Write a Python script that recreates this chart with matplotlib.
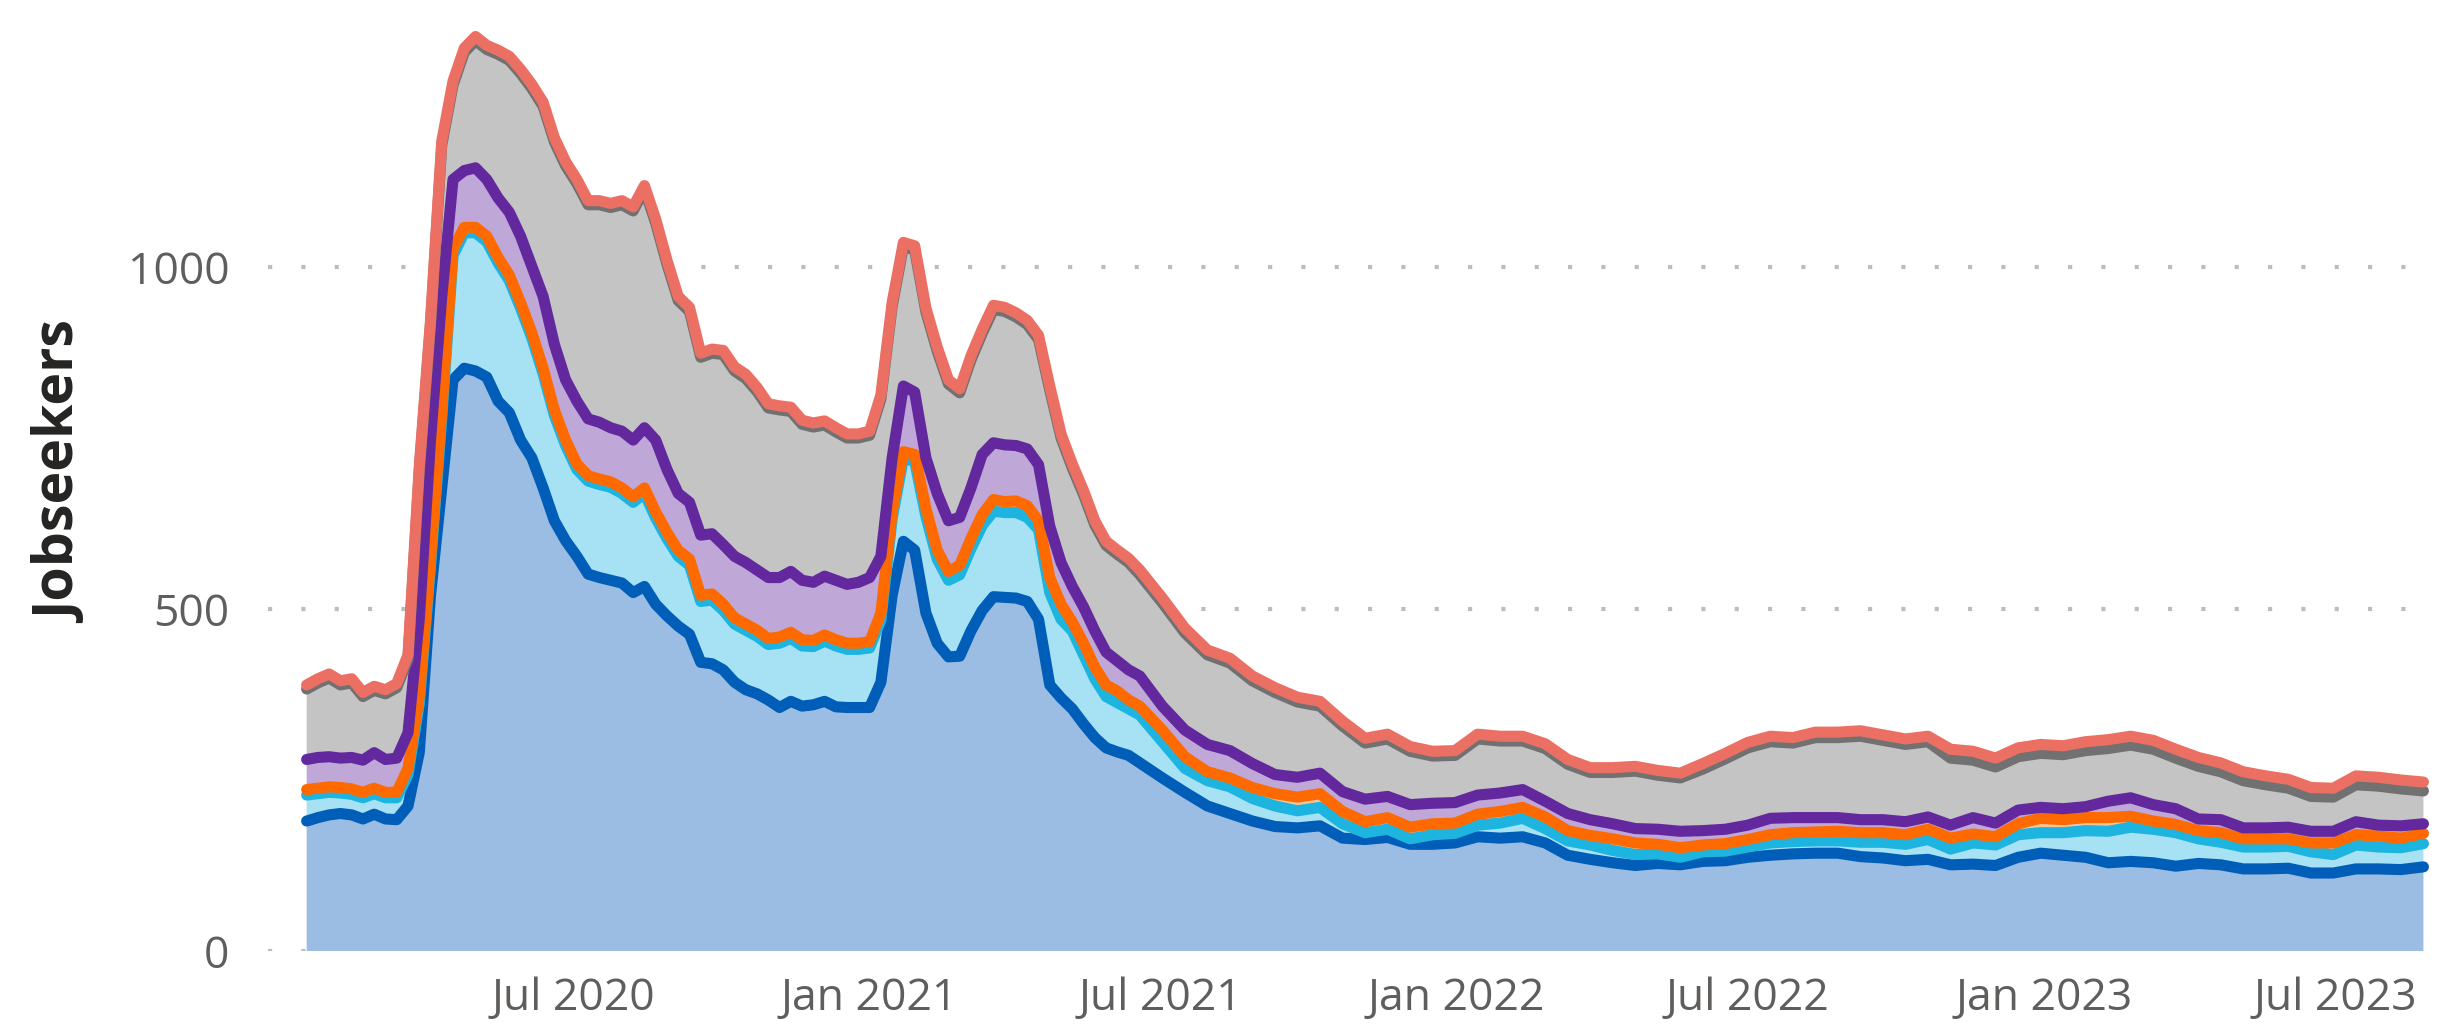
import numpy as np
import pandas as pd
import matplotlib
matplotlib.use("Agg")
import matplotlib.pyplot as plt
import matplotlib.dates as mdates

# weekly readings up to mid 2021, fortnightly after that
dates = list(pd.date_range("2020-01-17", "2021-06-11", freq="7D")) + \
        list(pd.date_range("2021-06-18", "2023-08-25", freq="14D"))

blue = [190, 195, 199, 201, 199, 193, 200, 193, 192, 212,
        290, 520, 677, 835, 852, 848, 839, 804, 787, 747,
        721, 677, 629, 600, 577, 551, 546, 542, 538, 524,
        533, 507, 490, 475, 463, 422, 420, 411, 393, 382,
        376, 367, 356, 365, 358, 360, 365, 357, 356, 356,
        356, 393, 520, 599, 586, 494, 450, 430, 431, 468,
        498, 518, 517, 516, 511, 485, 389, 370, 354, 332,
        312, 297, 291, 286,
        275, 253, 232, 212, 201, 190, 182, 180, 183, 165,
        163, 166, 156, 156, 158, 167, 165, 167, 158, 140,
        134, 129, 125, 128, 126, 131, 132, 137, 140, 142,
        143, 143, 138, 136, 132, 134, 126, 127, 125, 137,
        143, 140, 137, 129, 131, 129, 124, 128, 126, 120,
        120, 121, 114, 114, 120, 120, 119, 123]

light_blue = [38, 35, 33, 30, 30, 31, 30, 31, 32, 46,
              72, 43, 103, 182, 198, 202, 198, 202, 193, 193,
              175, 167, 154, 139, 127, 136, 136, 136, 131, 132,
              136, 126, 113, 102, 101, 89, 93, 87, 85, 87,
              84, 81, 94, 92, 88, 85, 88, 89, 85, 85,
              87, 91, 112, 121, 130, 141, 123, 112, 119, 120,
              124, 125, 124, 125, 123, 131, 135, 115, 114, 101,
              86, 75, 72, 68,
              70, 53, 35, 37, 39, 33, 30, 25, 27, 21,
              10, 12, 8, 14, 14, 17, 22, 27, 21, 21,
              21, 18, 16, 14, 11, 14, 14, 15, 18, 18,
              18, 18, 21, 23, 24, 29, 23, 31, 30, 33,
              30, 33, 39, 46, 50, 49, 49, 36, 33, 32,
              32, 32, 31, 27, 35, 32, 32, 34]

orange = [8, 8, 8, 8, 8, 8, 8, 8, 8, 9,
          10, 10, 10, 10, 8, 8, 8, 8, 8, 8,
          8, 8, 8, 8, 8, 8, 8, 8, 8, 8,
          8, 9, 9, 9, 9, 9, 9, 9, 9, 9,
          9, 9, 9, 9, 9, 9, 9, 9, 9, 9,
          9, 10, 10, 10, 10, 12, 13, 13, 14, 15,
          16, 17, 16, 17, 17, 13, 22, 22, 13, 17,
          17, 17, 17, 13,
          13, 17, 17, 13, 13, 16, 18, 20, 20, 18,
          16, 17, 17, 16, 15, 16, 17, 16, 17, 15,
          14, 17, 17, 14, 14, 10, 11, 11, 12, 13,
          13, 14, 14, 14, 14, 15, 16, 13, 12, 16,
          21, 19, 19, 20, 16, 12, 12, 12, 14, 12,
          12, 11, 13, 17, 15, 16, 14, 15]

purple = [44, 45, 44, 43, 46, 47, 52, 48, 50, 52,
          113, 174, 167, 101, 83, 87, 83, 87, 92, 97,
          97, 105, 96, 88, 92, 83, 83, 79, 83, 83,
          88, 105, 92, 83, 83, 88, 88, 87, 90, 90,
          88, 89, 87, 89, 87, 85, 86, 87, 86, 89,
          94, 83, 79, 96, 91, 74, 83, 74, 70, 74,
          88, 83, 83, 81, 83, 82, 75, 61, 52, 53,
          53, 48, 44, 44,
          44, 35, 39, 40, 40, 35, 28, 29, 30, 29,
          33, 31, 33, 30, 30, 28, 27, 26, 23, 25,
          23, 22, 21, 22, 24, 21, 21, 21, 24, 22,
          21, 20, 19, 19, 19, 18, 19, 24, 20, 20,
          16, 16, 16, 24, 27, 24, 23, 17, 19, 16,
          16, 17, 17, 17, 19, 16, 18, 14]

grey = [103, 109, 115, 107, 109, 93, 91, 96, 103, 108,
        217, 169, 221, 138, 173, 186, 190, 210, 222, 238,
        260, 278, 296, 313, 318, 313, 318, 322, 331, 335,
        348, 317, 300, 282, 279, 260, 264, 278, 271, 269,
        261, 248, 245, 234, 228, 227, 221, 217, 214, 211,
        208, 230, 221, 204, 208, 213, 208, 200, 182, 187,
        177, 195, 195, 188, 182, 183, 199, 182, 173, 164,
        155, 156, 156, 157,
        148, 151, 142, 131, 128, 121, 120, 110, 98, 96,
        82, 84, 78, 69, 69, 82, 76, 71, 77, 72,
        69, 75, 84, 79, 78, 90, 103, 113, 112, 109,
        117, 117, 122, 116, 113, 110, 98, 84, 82, 78,
        79, 79, 82, 77, 77, 81, 74, 77, 70, 69,
        63, 57, 51, 50, 54, 57, 54, 48]

red = [6] * 74 + [7] * 25 + [8] * 11 + [13] * 22

layers = [blue, light_blue, orange, purple, grey, red]
fill_colors = ["#9BBDE3", "#A7E1F4", "#FFC49A", "#BFA8D8", "#C4C4C4", "#F2B3AC"]
line_colors = ["#005EB8", "#1EB4E0", "#FF6A00", "#63279E", "#717171", "#EC6F63"]

fig = plt.figure(figsize=(24.48, 10.29), dpi=100)
ax = fig.add_axes([0.1095, 0.0758, 0.8844, 0.9173])

ax.stackplot(dates, *layers, colors=fill_colors, linewidth=0, zorder=2)

tops = np.cumsum(np.array(layers, dtype=float), axis=0)
for top, col in zip(tops, line_colors):
    ax.plot(dates, top, color=col, lw=8, solid_capstyle="round",
            solid_joinstyle="round", zorder=3, clip_on=False)

ax.set_ylim(0, 1380)
ax.set_xlim(pd.Timestamp("2019-12-24"), pd.Timestamp("2023-08-31"))
ax.set_yticks([0, 500, 1000])
ax.yaxis.grid(True, color="#BDBDBD", lw=3, linestyle=(0, (1, 7)), zorder=1)
ax.xaxis.grid(False)
ax.set_axisbelow(True)

ticks = pd.to_datetime(["2020-07-01", "2021-01-01", "2021-07-01", "2022-01-01",
                        "2022-07-01", "2023-01-01", "2023-07-01"])
ax.set_xticks(ticks)
ax.xaxis.set_major_formatter(mdates.DateFormatter("%b %Y"))

for s in ax.spines.values():
    s.set_visible(False)
ax.tick_params(length=0, labelsize=32, labelcolor="#605E5C")
ax.tick_params(axis="x", pad=18)
ax.tick_params(axis="y", pad=28)
for lab in ax.get_xticklabels() + ax.get_yticklabels():
    lab.set_family("Open Sans")

ax.set_ylabel("Jobseekers", fontsize=40, color="#252423", family="Open Sans",
              fontweight="bold")
ax.yaxis.set_label_coords(-0.0822, 0.506)

fig.savefig("out.png", dpi=100, facecolor="white")
